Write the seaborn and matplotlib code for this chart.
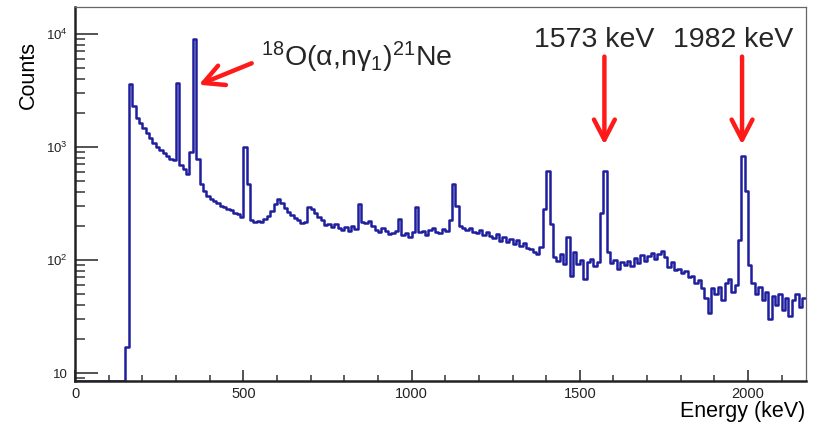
import numpy as np
import pandas as pd
import matplotlib
matplotlib.use("Agg")
import matplotlib.pyplot as plt
import seaborn as sns
from matplotlib.ticker import FixedLocator, FixedFormatter, MultipleLocator, LogLocator, NullFormatter

# ---------------- data ----------------
bin_width = 10  # keV
counts = [
    0, 0, 0, 0, 0, 0, 0, 0, 0, 0, 0, 0, 0, 0, 0,            # 0 - 140
    17, 3600, 2300, 1800, 1640, 1480, 1330, 1200, 1080, 1000,  # 150 - 240
    940, 880, 830, 790, 770, 3700, 690, 640, 580, 900,          # 250 - 340
    9000, 780, 470, 410, 370, 345, 330, 318, 300, 292,          # 350 - 440
    280, 275, 262, 255, 238, 1000, 470, 225, 215, 222,          # 450 - 540
    218, 232, 245, 272, 315, 345, 322, 290, 265, 248,           # 550 - 640
    236, 225, 212, 218, 295, 282, 262, 240, 228, 205,           # 650 - 740
    210, 196, 208, 192, 186, 195, 182, 200, 188, 310,           # 750 - 840
    218, 212, 222, 198, 186, 176, 192, 180, 170, 175,           # 850 - 940
    182, 232, 165, 172, 160, 178, 292, 176, 182, 168,           # 950 - 1040
    186, 190, 178, 172, 188, 182, 225, 470, 300, 198,           # 1050 - 1140
    192, 184, 192, 178, 172, 186, 168, 176, 162, 158,           # 1150 - 1240
    170, 148, 160, 144, 152, 138, 150, 134, 142, 128,           # 1250 - 1340
    124, 118, 112, 130, 280, 610, 210, 106, 98, 112,            # 1350 - 1440
    92, 160, 72, 118, 92, 100, 68, 96, 102, 88,                 # 1450 - 1540
    96, 260, 610, 118, 94, 100, 84, 96, 90, 98,                 # 1550 - 1640
    88, 104, 94, 110, 98, 108, 116, 102, 114, 120,              # 1650 - 1740
    106, 86, 96, 82, 84, 76, 80, 70, 72, 62,                    # 1750 - 1840
    66, 56, 46, 34, 56, 50, 58, 44, 62, 68,                     # 1850 - 1940
    52, 60, 150, 830, 410, 90, 62, 50, 58, 44,                  # 1950 - 2040
    52, 30, 48, 40, 50, 36, 46, 32, 44, 50,                     # 2050 - 2140
    38, 46,                                                     # 2150 - 2160
]
y_ticks = [10, 100, 1000, 10000]
y_tick_labels = ["10", r"$10^{2}$", r"$10^{3}$", r"$10^{4}$"]
x_ticks = [0, 500, 1000, 1500, 2000]
peak_labels = ["1573 keV", "1982 keV"]
peak_energies = [1573, 1982]
reaction_label = r"$^{18}$O(α,nγ$_{1}$)$^{21}$Ne"

# ---------------- figure ----------------
W, H = 817, 425
sns.set_theme(style="white")
plt.rcParams["font.family"] = ["Liberation Sans", "DejaVu Sans"]
plt.rcParams["mathtext.fontset"] = "custom"
plt.rcParams["mathtext.rm"] = "Liberation Sans"
plt.rcParams["mathtext.it"] = "Liberation Sans:italic"
plt.rcParams["mathtext.bf"] = "Liberation Sans:bold"

fig = plt.figure(figsize=(W / 100, H / 100), dpi=100)
ax = fig.add_axes([75 / W, 1 - 381 / H, (806 - 75) / W, (381 - 7) / H])

n_bins = len(counts)
centers = np.arange(n_bins) * bin_width + bin_width / 2
ymin, ymax = 8.5, 17300
df = pd.DataFrame({"energy": centers,
                   "counts": np.clip(np.array(counts, dtype=float), ymin * 1.005, None)})

sns.histplot(data=df, x="energy", weights="counts", binwidth=bin_width,
             binrange=(0, n_bins * bin_width), element="step",
             fill=False, color="#1f1f9e", linewidth=1.8, ax=ax)
ax.set_yscale("log")
ax.set_xlim(0, 2172)
ax.set_ylim(ymin, ymax)
ax.set_xlabel("")
ax.set_ylabel("")

# ticks (ROOT-like, inward)
ax.yaxis.set_major_locator(FixedLocator(y_ticks))
ax.yaxis.set_major_formatter(FixedFormatter(y_tick_labels))
ax.yaxis.set_minor_locator(LogLocator(base=10, subs=np.arange(2, 10)))
ax.yaxis.set_minor_formatter(NullFormatter())
ax.xaxis.set_major_locator(FixedLocator(x_ticks))
ax.xaxis.set_minor_locator(MultipleLocator(100))
ax.tick_params(axis="y", which="major", direction="in", length=16.5, width=1.3,
               color="#444444", labelsize=9.5, labelcolor="#222222", pad=5,
               left=True, right=False)
ax.tick_params(axis="y", which="minor", direction="in", length=7, width=1.2,
               color="#444444", left=True, right=False)
ax.tick_params(axis="x", which="major", direction="in", length=8, width=1.3,
               color="#444444", labelsize=10.5, labelcolor="#222222", pad=4,
               bottom=True, top=False)
ax.tick_params(axis="x", which="minor", direction="in", length=4.5, width=1.2,
               color="#444444", bottom=True, top=False)

for side in ["left", "bottom"]:
    ax.spines[side].set_color("#222222")
    ax.spines[side].set_linewidth(1.8)
for side in ["top", "right"]:
    ax.spines[side].set_color("#666666")
    ax.spines[side].set_linewidth(0.9)

# axis titles
fig.text(28 / W, 1 - 75 / H, "Counts", rotation=90, ha="center", va="center",
         fontsize=15.5, color="black")
fig.text(805 / W, 1 - 411 / H, "Energy (keV)", ha="right", va="center",
         fontsize=15.5, color="black")

# annotations
arrow_kw = dict(arrowstyle="->,head_length=1.45,head_width=0.75", color="#ff1a1a",
                lw=3.2, shrinkA=0, shrinkB=0, mutation_scale=10)
for lab, e in zip(peak_labels, peak_energies):
    ax.annotate("", xy=(e, 1050), xytext=(e, 6300), arrowprops=arrow_kw)
ax.text(1542, 7700, peak_labels[0], ha="center", va="baseline", fontsize=20.5)
ax.text(1955, 7700, peak_labels[1], ha="center", va="baseline", fontsize=20.5)

ax.annotate("", xy=(368, 3550), xytext=(525, 5500), arrowprops=arrow_kw)
ax.text(553, 5120, reaction_label, ha="left", va="baseline", fontsize=20.5)

fig.savefig("out.png", dpi=100)
